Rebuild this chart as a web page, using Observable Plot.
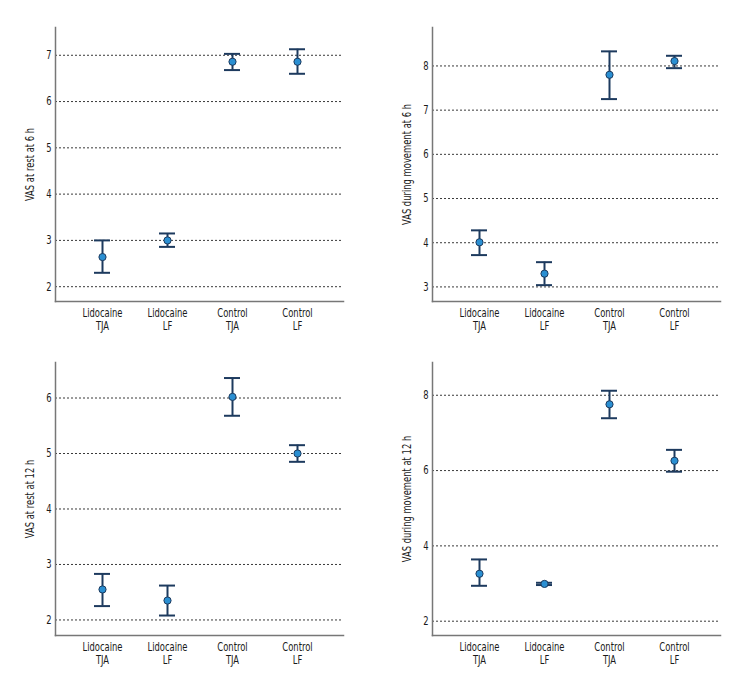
<!DOCTYPE html>
<html>
<head>
<meta charset="utf-8">
<script src="https://cdn.jsdelivr.net/npm/d3@7"></script>
<script src="https://cdn.jsdelivr.net/npm/@observablehq/plot@0.6"></script>
<style>
  body { margin: 0; background: #fff; }
  #wrap { position: relative; width: 744px; height: 696px; }
  .panel { position: absolute; }
</style>
</head>
<body>
<div id="wrap"></div>
<script>
const groups = ["Lidocaine\nTJA", "Lidocaine\nLF", "Control\nTJA", "Control\nLF"];

// Panel A: VAS at rest at 6 h
const restMean6 = [2.64, 3.0, 6.86, 6.86];
const restLow6  = [2.30, 2.86, 6.68, 6.60];
const restHigh6 = [3.00, 3.15, 7.03, 7.13];

// Panel B: VAS during movement at 6 h
const moveMean6 = [4.01, 3.30, 7.80, 8.11];
const moveLow6  = [3.72, 3.04, 7.25, 7.95];
const moveHigh6 = [4.28, 3.56, 8.33, 8.23];

// Panel C: VAS at rest at 12 h
const restMean12 = [2.55, 2.35, 6.02, 5.00];
const restLow12  = [2.25, 2.08, 5.68, 4.85];
const restHigh12 = [2.83, 2.62, 6.36, 5.15];

// Panel D: VAS during movement at 12 h
const moveMean12 = [3.26, 2.99, 7.76, 6.26];
const moveLow12  = [2.94, 2.96, 7.39, 5.97];
const moveHigh12 = [3.64, 3.02, 8.12, 6.55];

const panels = [
  {label: "VAS at rest at 6 h", mean: restMean6, low: restLow6, high: restHigh6,
   domain: [1.68, 7.6], ticks: [2,3,4,5,6,7], left: 0, top: 0, w: 372, h: 340,
   m: {l: 55, r: 29, t: 27, b: 39}},
  {label: "VAS during movement at 6 h", mean: moveMean6, low: moveLow6, high: moveHigh6,
   domain: [2.67, 8.87], ticks: [3,4,5,6,7,8], left: 372, top: 0, w: 372, h: 340,
   m: {l: 60, r: 24, t: 27, b: 39}},
  {label: "VAS at rest at 12 h", mean: restMean12, low: restLow12, high: restHigh12,
   domain: [1.72, 6.64], ticks: [2,3,4,5,6], left: 0, top: 340, w: 372, h: 356,
   m: {l: 55, r: 29, t: 22, b: 61}},
  {label: "VAS during movement at 12 h", mean: moveMean12, low: moveLow12, high: moveHigh12,
   domain: [1.62, 8.87], ticks: [2,4,6,8], left: 372, top: 340, w: 372, h: 356,
   m: {l: 60, r: 24, t: 22, b: 61}}
];

const navy = "#1d3a5e";
const blue = "#2a8fd2";
const font = "'DejaVu Sans', sans-serif";
const squeeze = 0.7; // horizontal condensing of text to mimic the narrow typeface

const wrap = document.getElementById("wrap");
for (const p of panels) {
  const data = groups.map((g, i) => ({group: g, mean: p.mean[i], low: p.low[i], high: p.high[i]}));
  const chart = Plot.plot({
    width: p.w,
    height: p.h,
    marginLeft: p.m.l,
    marginRight: p.m.r,
    marginTop: p.m.t,
    marginBottom: p.m.b,
    style: {fontFamily: font, fontSize: "12px", color: "#1a1a1a", background: "white"},
    x: {type: "band", domain: groups, paddingInner: 0.754, paddingOuter: 0.59, label: null},
    y: {domain: p.domain, label: null},
    marks: [
      Plot.ruleY(p.ticks, {stroke: "#222", strokeWidth: 0.9, strokeDasharray: "2,2"}),
      Plot.axisY({ticks: p.ticks, tickFormat: "d", tickSize: 0, tickPadding: 4, label: p.label,
                  labelAnchor: "center", labelArrow: "none", labelOffset: 30,
                  fontSize: 12}),
      Plot.axisX({tickSize: 0, tickPadding: 6, label: null, fontSize: 12, lineHeight: 1.1}),
      Plot.frame({anchor: "left", stroke: "#777", strokeWidth: 1.5}),
      Plot.frame({anchor: "bottom", stroke: "#777", strokeWidth: 1.5}),
      Plot.ruleX(data, {x: "group", y1: "low", y2: "high", stroke: navy, strokeWidth: 2}),
      Plot.tickY(data, {x: "group", y: "high", stroke: navy, strokeWidth: 2}),
      Plot.tickY(data, {x: "group", y: "low", stroke: navy, strokeWidth: 2}),
      Plot.dot(data, {x: "group", y: "mean", r: 3.6, fill: blue, stroke: navy, strokeWidth: 1})
    ]
  });
  // condense every text horizontally along its own baseline
  chart.querySelectorAll("text").forEach(el => {
    const t = el.getAttribute("transform") || "";
    el.setAttribute("transform", (t + ` scale(${squeeze},1)`).trim());
  });
  chart.classList.add("panel");
  chart.style.left = p.left + "px";
  chart.style.top = p.top + "px";
  wrap.appendChild(chart);
}
</script>
</body>
</html>
